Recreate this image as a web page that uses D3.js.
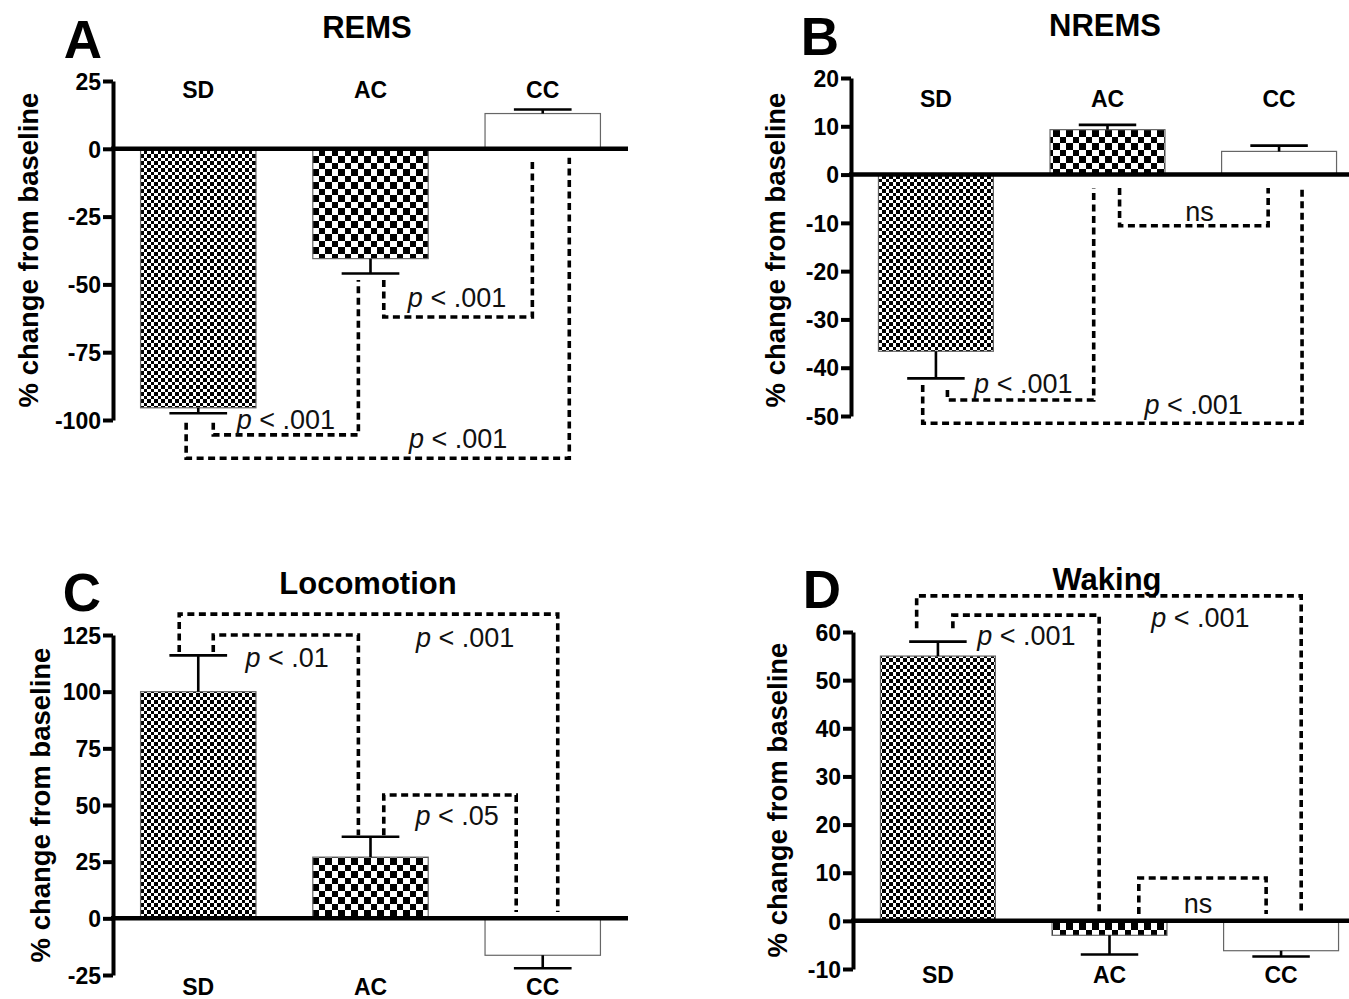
<!DOCTYPE html>
<html lang="en">
<head>
<meta charset="UTF-8">
<title>Percent change from baseline: SD, AC, CC</title>
<script src="https://d3js.org/d3.v7.min.js"></script>
<style>
  body { margin: 0; background: #fff; }
  svg { display: block; font-family: "Liberation Sans", Arial, sans-serif; }
  .axis path, .axis line { stroke: #000; stroke-width: 4px; }
  .axis text { font-size: 23px; font-weight: bold; fill: #000; }
  .zero { stroke: #000; stroke-width: 4.5px; }
  .bar { stroke: #666; stroke-width: 1.2px; }
  .err { stroke: #000; stroke-width: 2.6px; fill: none; }
  .bracket { stroke: #000; stroke-width: 3.6px; fill: none; stroke-dasharray: 7 4.5; }
  .sig { font-size: 27px; fill: #111; text-anchor: middle; }
  .cat { font-size: 23px; font-weight: bold; text-anchor: middle; }
  .title { font-size: 31px; font-weight: bold; text-anchor: middle; }
  .letter { font-size: 53px; font-weight: bold; text-anchor: middle; }
  .ylab { font-size: 27.5px; font-weight: bold; text-anchor: middle; }
</style>
</head>
<body>
<svg id="chart" width="1349" height="999"></svg>
<script>
const groups = ["SD", "AC", "CC"];

// REMS
const remsMean = [-95.5, -40.5, 13];
const remsSem = [2, 5.5, 1.5];
const remsTicks = [25, 0, -25, -50, -75, -100];

// NREMS
const nremsMean = [-36.6, 9.3, 4.8];
const nremsSem = [5.6, 1.0, 1.2];
const nremsTicks = [20, 10, 0, -10, -20, -30, -40, -50];

// Locomotion
const locoMean = [100, 27, -16.3];
const locoSem = [16, 9, 5.7];
const locoTicks = [125, 100, 75, 50, 25, 0, -25];

// Waking
const wakeMean = [55, -3, -6.2];
const wakeSem = [3, 4, 1.2];
const wakeTicks = [60, 50, 40, 30, 20, 10, 0, -10];

// significance brackets: a/b = groups, da/db = shift in bar widths,
// ya/yb = where each leg ends, lev = level of the crossbar (data units)
const remsSig = [
  { a: "SD", da: 0.13, ya: -101, b: "AC", db: -0.105, yb: -48.4, lev: -105.5, text: "p < .001", at: "SD", dt: 0.76, ty: -103.3 },
  { a: "AC", da: 0.115, ya: -48.4, b: "CC", db: -0.09, yb: -3.3, lev: -62, text: "p < .001", at: "AC", dt: 0.75, ty: -58.3 },
  { a: "SD", da: -0.105, ya: -101, b: "CC", db: 0.23, yb: -3.3, lev: -114.1, text: "p < .001", at: "AC", dt: 0.76, ty: -110.3 }
];
const nremsSig = [
  { a: "AC", da: 0.105, ya: -2.8, b: "CC", db: -0.095, yb: -2.8, lev: -10.6, text: "ns", at: "AC", dt: 0.8, ty: -9.6 },
  { a: "SD", da: 0.1, ya: -44.6, b: "AC", db: -0.12, yb: -2.8, lev: -46.7, text: "p < .001", at: "SD", dt: 0.76, ty: -45.2 },
  { a: "SD", da: -0.115, ya: -43.6, b: "CC", db: 0.2, yb: -2.8, lev: -51.5, text: "p < .001", at: "AC", dt: 0.75, ty: -49.6 }
];
const locoSig = [
  { a: "SD", da: 0.13, ya: 117.5, b: "AC", db: -0.105, yb: 36.7, lev: 125, text: "p < .01", at: "SD", dt: 0.77, ty: 110.9 },
  { a: "AC", da: 0.115, ya: 36.7, b: "CC", db: -0.23, yb: 2.8, lev: 54.4, text: "p < .05", at: "AC", dt: 0.75, ty: 41.2 },
  { a: "SD", da: -0.165, ya: 117.5, b: "CC", db: 0.13, yb: 2.8, lev: 134.2, text: "p < .001", at: "AC", dt: 0.82, ty: 119.7 }
];
const wakeSig = [
  { a: "SD", da: 0.13, ya: 60.8, b: "AC", db: -0.09, yb: 1.4, lev: 63.5, text: "p < .001", at: "SD", dt: 0.77, ty: 57.3 },
  { a: "AC", da: 0.255, ya: 1.4, b: "CC", db: -0.13, yb: 1.4, lev: 8.9, text: "ns", at: "AC", dt: 0.77, ty: 1.6 },
  { a: "SD", da: -0.185, ya: 60.8, b: "CC", db: 0.175, yb: 1.4, lev: 67.5, text: "p < .001", at: "AC", dt: 0.79, ty: 61 }
];

const svg = d3.select("#chart");

// fill patterns: fine checker (SD), coarse checker (AC), white (CC)
const defs = svg.append("defs");
function checker(id, big, small) {
  const p = defs.append("pattern").attr("id", id)
    .attr("patternUnits", "userSpaceOnUse")
    .attr("width", big + small).attr("height", big + small);
  p.append("rect").attr("width", big + small).attr("height", big + small).attr("fill", "#fff");
  p.append("rect").attr("width", big).attr("height", big).attr("fill", "#000");
  p.append("rect").attr("x", big).attr("y", big).attr("width", small).attr("height", small).attr("fill", "#000");
}
checker("fine", 4, 3);
checker("coarse", 7, 6);
const fills = ["url(#fine)", "url(#coarse)", "#fff"];

const panels = [
  { mean: remsMean, sem: remsSem, ticks: remsTicks, sig: remsSig, title: "REMS", letter: "A",
    left: 113, right: 628, top: 81, bottom: 420, zeroEnd: 628, catY: 98,
    titleX: 367, titleY: 38, letterX: 83, letterY: 58, ylabX: 28, ylabY: 250 },
  { mean: nremsMean, sem: nremsSem, ticks: nremsTicks, sig: nremsSig, title: "NREMS", letter: "B",
    left: 851, right: 1364, top: 78, bottom: 416, zeroEnd: 1349, catY: 107,
    titleX: 1105, titleY: 36, letterX: 820, letterY: 55, ylabX: 775, ylabY: 250 },
  { mean: locoMean, sem: locoSem, ticks: locoTicks, sig: locoSig, title: "Locomotion", letter: "C",
    left: 113, right: 628, top: 635, bottom: 975, zeroEnd: 628, catY: 995,
    titleX: 368, titleY: 594, letterX: 82, letterY: 611, ylabX: 40, ylabY: 805 },
  { mean: wakeMean, sem: wakeSem, ticks: wakeTicks, sig: wakeSig, title: "Waking", letter: "D",
    left: 853, right: 1366, top: 632, bottom: 969, zeroEnd: 1349, catY: 983,
    titleX: 1107, titleY: 590, letterX: 822, letterY: 608, ylabX: 777, ylabY: 800 }
];

panels.forEach(p => {
  const g = svg.append("g");
  const ext = d3.extent(p.ticks);
  const y = d3.scaleLinear().domain(ext).range([p.bottom, p.top]);
  const x = d3.scaleBand().domain(groups).range([p.left, p.right])
    .paddingInner(0.33).paddingOuter(0.16);
  const bw = x.bandwidth();
  const cx = k => x(k) + bw / 2;
  const rows = groups.map((k, i) => ({ k, v: p.mean[i], e: p.sem[i], fill: fills[i] }));

  // bars
  g.selectAll(".bar").data(rows).join("rect")
    .attr("class", "bar")
    .attr("x", d => x(d.k)).attr("width", bw)
    .attr("y", d => Math.min(y(0), y(d.v)))
    .attr("height", d => Math.abs(y(d.v) - y(0)))
    .attr("fill", d => d.fill);

  // error bars (one side, away from zero)
  const tip = d => d.v + Math.sign(d.v) * d.e;
  g.selectAll(".err").data(rows).join("path")
    .attr("class", "err")
    .attr("d", d => `M${cx(d.k)},${y(d.v)}V${y(tip(d))}M${cx(d.k) - bw / 4},${y(tip(d))}H${cx(d.k) + bw / 4}`);

  // y axis (plain hyphen for negatives, as in the original)
  g.append("g").attr("class", "axis")
    .attr("transform", `translate(${p.left},0)`)
    .call(d3.axisLeft(y).tickValues(p.ticks).tickFormat(v => String(v))
      .tickSize(10).tickSizeOuter(0).tickPadding(2))
    .call(a => a.selectAll("text").attr("dy", "0.36em"));

  // zero line
  g.append("line").attr("class", "zero")
    .attr("x1", p.left - 2).attr("x2", p.zeroEnd)
    .attr("y1", y(0)).attr("y2", y(0));

  // brackets
  g.selectAll(".bracket").data(p.sig).join("path")
    .attr("class", "bracket")
    .attr("d", s => {
      const xa = cx(s.a) + s.da * bw, xb = cx(s.b) + s.db * bw;
      return `M${xa},${y(s.ya)}V${y(s.lev)}H${xb}V${y(s.yb)}`;
    });

  const lab = g.selectAll(".sig").data(p.sig).join("text")
    .attr("class", "sig")
    .attr("x", s => cx(s.at) + s.dt * bw)
    .attr("y", s => y(s.ty));
  lab.each(function (s) {
    const t = d3.select(this);
    if (s.text.startsWith("p")) {
      t.append("tspan").attr("font-style", "italic").text("p");
      t.append("tspan").text(s.text.slice(1));
    } else {
      t.text(s.text);
    }
  });

  // group labels
  g.selectAll(".cat").data(groups).join("text")
    .attr("class", "cat")
    .attr("x", k => cx(k)).attr("y", p.catY).text(k => k);

  g.append("text").attr("class", "title").attr("x", p.titleX).attr("y", p.titleY).text(p.title);
  g.append("text").attr("class", "letter").attr("x", p.letterX).attr("y", p.letterY).text(p.letter);
  g.append("text").attr("class", "ylab")
    .attr("transform", `translate(${p.ylabX},${p.ylabY}) rotate(-90)`)
    .attr("dy", "0.36em")
    .text("% change from baseline");
});
</script>
</body>
</html>
